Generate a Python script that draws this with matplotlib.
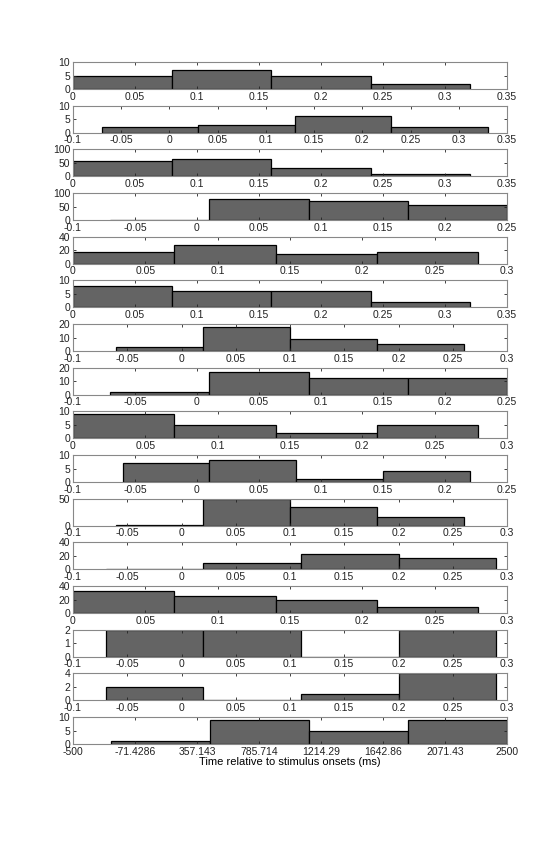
import matplotlib
matplotlib.use("Agg")
import matplotlib.pyplot as plt
import numpy as np

plt.rcParams['font.family'] = ['Liberation Sans', 'DejaVu Sans']

# one entry per panel: bin edges, counts, x limits, x ticks, y limit
edges = [
    [0, 0.08, 0.16, 0.24, 0.32],
    [-0.07, 0.03, 0.13, 0.23, 0.33],
    [0, 0.08, 0.16, 0.24, 0.32],
    [-0.07, 0.01, 0.09, 0.17, 0.25],
    [0, 0.07, 0.14, 0.21, 0.28],
    [0, 0.08, 0.16, 0.24, 0.32],
    [-0.06, 0.02, 0.10, 0.18, 0.26],
    [-0.07, 0.01, 0.09, 0.17, 0.25],
    [0, 0.07, 0.14, 0.21, 0.28],
    [-0.06, 0.01, 0.08, 0.15, 0.22],
    [-0.06, 0.02, 0.10, 0.18, 0.26],
    [-0.07, 0.02, 0.11, 0.20, 0.29],
    [0, 0.07, 0.14, 0.21, 0.28],
    [-0.07, 0.02, 0.11, 0.20, 0.29],
    [-0.07, 0.02, 0.11, 0.20, 0.29],
    [-240, 445, 1130, 1815, 2500],
]
counts = [
    [5, 7, 5, 2],
    [2, 3, 6, 2],
    [58, 65, 31, 9],
    [1, 78, 70, 56],
    [17, 28, 15, 17],
    [8, 6, 6, 2],
    [3, 18, 9, 5],
    [2, 17, 12, 12],
    [9, 5, 2, 5],
    [7, 8, 1, 4],
    [1, 49, 34, 17],
    [1, 10, 23, 17],
    [33, 25, 19, 9],
    [2, 2, 0, 2],
    [2, 0, 1, 4],
    [1, 9, 5, 9],
]
xlims = [
    (0, 0.35), (-0.1, 0.35), (0, 0.35), (-0.1, 0.25),
    (0, 0.3), (0, 0.35), (-0.1, 0.3), (-0.1, 0.25),
    (0, 0.3), (-0.1, 0.25), (-0.1, 0.3), (-0.1, 0.3),
    (0, 0.3), (-0.1, 0.3), (-0.1, 0.3), (-500, 2500),
]
ylims = [10, 10, 100, 100, 40, 10, 20, 20, 10, 10, 50, 40, 40, 2, 4, 10]
yticks = [
    [0, 5, 10], [0, 5, 10], [0, 50, 100], [0, 50, 100],
    [0, 20, 40], [0, 5, 10], [0, 10, 20], [0, 10, 20],
    [0, 5, 10], [0, 5, 10], [0, 50], [0, 20, 40],
    [0, 20, 40], [0, 1, 2], [0, 2, 4], [0, 5, 10],
]
last_ticks = [-500, -71.4286, 357.143, 785.714, 1214.29, 1642.86, 2071.43, 2500]
last_labels = ['-500', '-71.4286', '357.143', '785.714', '1214.29', '1642.86', '2071.43', '2500']

def tick_label(v):
    s = '%g' % round(v, 4)
    return s

W, H = 560, 843
fig = plt.figure(figsize=(W / 100, H / 100), dpi=100)

left = 73 / W
width = (507 - 73) / W
top0 = 62
pitch = 43.67
ax_h = 27

for i in range(16):
    top = top0 + i * pitch
    ax = fig.add_axes([left, 1 - (top + ax_h) / H, width, ax_h / H])
    e = np.array(edges[i])
    ax.bar(e[:-1], counts[i], width=np.diff(e), align='edge',
           color='#646464', edgecolor='black', linewidth=0.9)
    ax.set_xlim(*xlims[i])
    ax.set_ylim(0, ylims[i])
    if i < 15:
        lo, hi = xlims[i]
        xt = np.round(np.arange(lo, hi + 1e-9, 0.05), 4)
        ax.set_xticks(xt)
        ax.set_xticklabels([tick_label(v) for v in xt])
    else:
        ax.set_xticks(last_ticks)
        ax.set_xticklabels(last_labels)
        ax.set_xlabel('Time relative to stimulus onsets (ms)', fontsize=8, labelpad=0)
    ax.set_yticks(yticks[i])
    ax.set_yticklabels([str(v) for v in yticks[i]])
    ax.tick_params(direction='in', length=2.5, width=0.6, top=True, right=True,
                   labelsize=7.5, pad=2, colors='#222222')
    for sp in ax.spines.values():
        sp.set_color('#888888')
        sp.set_linewidth(0.8)

fig.savefig('out.png', dpi=100)
